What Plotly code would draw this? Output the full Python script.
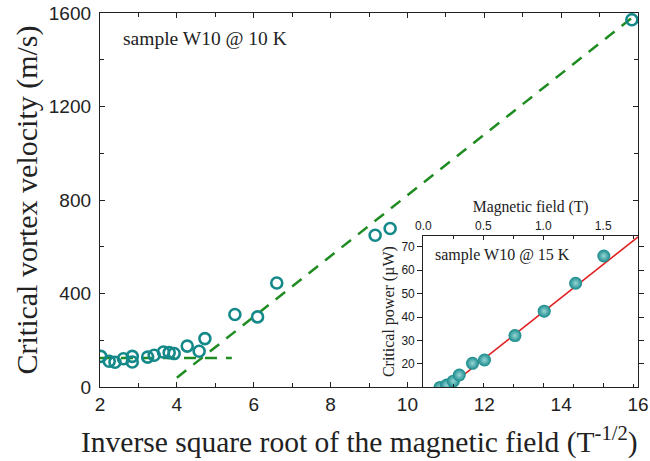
import plotly.graph_objects as go

# Main panel: critical vortex velocity vs inverse square root of field
inv_sqrt_b = [2.02, 2.24, 2.39, 2.61, 2.84, 2.84, 3.24, 3.41, 3.65, 3.80, 3.93,
              4.27, 4.58, 4.73, 5.51, 6.10, 6.60, 9.16, 9.55, 15.84]
velocity = [131, 110, 106, 121, 131, 107, 128, 136, 150, 147, 143,
            175, 153, 207, 310, 300, 445, 649, 678, 1571]

# Dashed guide lines
flat_x = [2.0, 5.43]
flat_y = [124, 124]
slope_x = [4.0, 16.0]
slope_y = [40, 1600]

# Inset: critical power vs magnetic field
field_t = [0.139, 0.195, 0.25, 0.30, 0.41, 0.51, 0.764, 1.008, 1.27, 1.505]
power_uw = [10.0, 11.0, 12.7, 15.3, 20.3, 21.7, 32.1, 42.5, 54.4, 66.0]
fit_x = [0.0, 1.9]
fit_y = [1.8, 1.8 + 40.4 * 1.9]

teal = "#15898a"
green = "#1f8c22"
ink = "#222"
sans = "Liberation Sans, Arial, sans-serif"
serif = "Liberation Serif, Times New Roman, serif"

fig = go.Figure()
fig.add_trace(go.Scatter(x=flat_x, y=flat_y, mode="lines",
                         line=dict(color=green, width=2.5, dash="12px,9px"),
                         xaxis="x", yaxis="y", showlegend=False))
fig.add_trace(go.Scatter(x=slope_x, y=slope_y, mode="lines",
                         line=dict(color=green, width=2.5, dash="12px,9px"),
                         xaxis="x", yaxis="y", showlegend=False))
fig.add_trace(go.Scatter(x=inv_sqrt_b, y=velocity, mode="markers",
                         marker=dict(symbol="circle-open", size=11, color=teal,
                                     line=dict(width=2.6, color=teal)),
                         xaxis="x", yaxis="y", showlegend=False))
fig.add_trace(go.Scatter(x=fit_x, y=fit_y, mode="lines",
                         line=dict(color="#e02020", width=1.6),
                         xaxis="x2", yaxis="y2", showlegend=False))
fig.add_trace(go.Scatter(x=field_t, y=power_uw, mode="markers",
                         marker=dict(symbol="circle", size=13, color=teal,
                                     gradient=dict(type="radial", color="#9ad6d6"),
                                     line=dict(width=0)),
                         xaxis="x2", yaxis="y2", showlegend=False))

fig.update_layout(
    width=650, height=461,
    margin=dict(l=100, r=12, t=13, b=74, autoexpand=False),
    paper_bgcolor="white", plot_bgcolor="white",
    xaxis=dict(domain=[0, 1], range=[2, 16], dtick=2, tick0=2, automargin=False,
               ticks="inside", ticklen=5, tickwidth=1, tickcolor=ink,
               minor=dict(dtick=1, ticks="inside", ticklen=4, tickcolor=ink),
               showline=True, linecolor=ink, linewidth=1.3, mirror="allticks",
               showgrid=False, zeroline=False, ticklabeloverflow="allow",
               tickfont=dict(family=sans, size=19, color=ink)),
    yaxis=dict(domain=[0, 1], range=[0, 1600], dtick=400, automargin=False,
               ticks="inside", ticklen=5, tickwidth=1, tickcolor=ink,
               minor=dict(dtick=200, ticks="inside", ticklen=4, tickcolor=ink),
               showline=True, linecolor=ink, linewidth=1.3, mirror="allticks",
               showgrid=False, zeroline=False, ticklabeloverflow="allow",
               ticklabelstandoff=4,
               tickfont=dict(family=sans, size=19, color=ink),
               title=dict(text="Critical vortex velocity (m/s)",
                          font=dict(family=serif, size=30, color=ink), standoff=2)),
    xaxis2=dict(domain=[0.601, 1], range=[0, 1.79], dtick=0.5, anchor="y2", side="top",
                automargin=False,
                ticks="inside", ticklen=4, tickwidth=1, tickcolor=ink,
                minor=dict(dtick=0.25, ticks="inside", ticklen=3, tickcolor=ink),
                tickformat=".1f",
                showline=True, linecolor=ink, linewidth=1.3, mirror="allticks",
                showgrid=False, zeroline=False,
                tickfont=dict(family=sans, size=12, color=ink),
                title=dict(text="Magnetic field (T)",
                           font=dict(family=serif, size=15.7, color=ink), standoff=2)),
    yaxis2=dict(domain=[0, 0.403], range=[10.2, 74.4], dtick=10, tick0=0, anchor="x2",
                automargin=False,
                ticks="outside", ticklen=5, tickwidth=1, tickcolor=ink,
                showline=True, linecolor=ink, linewidth=1.3, mirror="ticks",
                showgrid=False, zeroline=False,
                tickfont=dict(family=sans, size=12, color=ink),
                title=dict(text="Critical power (µW)",
                           font=dict(family=serif, size=16, color=ink), standoff=2)),
    annotations=[
        dict(text="Inverse square root of the magnetic field (T<sup>-1/2</sup>)",
             xref="paper", yref="paper", x=(359 - 100) / 538, y=(386.7 - 440) / 374,
             xanchor="center", yanchor="middle", showarrow=False,
             font=dict(family=serif, size=29.5, color=ink)),
        dict(text="sample W10 @ 10 K", xref="paper", yref="paper",
             x=(121 - 100) / 538, y=(386.7 - 38) / 374, xanchor="left", yanchor="middle",
             showarrow=False, font=dict(family=serif, size=19.5, color=ink)),
        dict(text="sample W10 @ 15 K", xref="paper", yref="paper",
             x=(433 - 100) / 538, y=(386.7 - 255) / 374, xanchor="left", yanchor="middle",
             showarrow=False, font=dict(family=serif, size=16, color=ink)),
    ],
)

fig.write_html("out.html", config={"displayModeBar": False},
               post_script="document.body.style.margin='0px';")
